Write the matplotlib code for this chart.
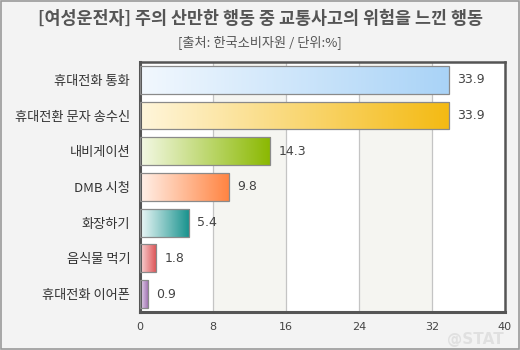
import numpy as np
import matplotlib
matplotlib.use('Agg')
import matplotlib.pyplot as plt
from matplotlib.colors import LinearSegmentedColormap
from matplotlib.patches import Rectangle

plt.rcParams['font.family'] = ['Noto Sans CJK KR', 'DejaVu Sans']

# data
categories = ['휴대전화 통화', '휴대전환 문자 송수신', '내비게이션', 'DMB 시청',
              '화장하기', '음식물 먹기', '휴대전화 이어폰']
values = [33.9, 33.9, 14.3, 9.8, 5.4, 1.8, 0.9]
x_ticks = [0, 8, 16, 24, 32, 40]
title = '[여성운전자] 주의 산만한 행동 중 교통사고의 위험을 느낀 행동'
subtitle = '[출처: 한국소비자원 / 단위:%]'

# gradient colours for each bar (left -> right)
grads = [('#f2f8fe', '#a9d3f7'),
         ('#fff6dc', '#f4ba12'),
         ('#f4f9e6', '#8ab800'),
         ('#fff1ea', '#ff8340'),
         ('#eef8f8', '#15918c'),
         ('#f9d8d8', '#dd4f52'),
         ('#eadcef', '#9a68ac')]

fig = plt.figure(figsize=(5.2, 3.5), dpi=100)
fig.patch.set_facecolor('#f3f3f3')
fig.patches.append(Rectangle((0.001, 0.002), 0.997, 0.995, transform=fig.transFigure,
                             fill=False, edgecolor='#9a9a9a', linewidth=1.2))

ax = fig.add_axes([0.269, 0.109, 0.702, 0.714])
ax.set_xlim(0, 40)
ax.set_ylim(len(categories) - 0.5, -0.5)

# alternating column bands
for i in range(len(x_ticks) - 1):
    ax.axvspan(x_ticks[i], x_ticks[i + 1],
               color='white' if i % 2 == 0 else '#f5f5f1', zorder=0, lw=0)
for t in x_ticks[1:-1]:
    ax.axvline(t, color='#c4c4c4', lw=0.9, zorder=1)

ypos = np.arange(len(categories))
bars = ax.barh(ypos, values, height=0.78, color='none', edgecolor='#8a8a8a',
               linewidth=0.9, zorder=3)

grad = np.linspace(0, 1, 256).reshape(1, -1)
for bar, (c0, c1), v in zip(bars, grads, values):
    cmap = LinearSegmentedColormap.from_list('g', [c0, c1])
    x0, y0 = bar.get_x(), bar.get_y()
    w, h = bar.get_width(), bar.get_height()
    im = ax.imshow(grad, cmap=cmap, aspect='auto', extent=[x0, x0 + w, y0 + h, y0],
                   zorder=2, interpolation='bicubic')
    im.set_clip_path(bar)
    ax.text(v + 0.9, bar.get_y() + h / 2, f'{v}', va='center', ha='left',
            fontsize=9, color='#444444', family=['DejaVu Sans'])

ax.set_xlim(0, 40)
ax.set_ylim(len(categories) - 0.5, -0.5)

ax.set_yticks(ypos)
ax.set_yticklabels(categories, fontsize=9.5, color='#333333')
ax.set_xticks(x_ticks)
ax.set_xticklabels([str(t) for t in x_ticks], fontsize=8, color='#444444',
                   family=['DejaVu Sans'])
ax.tick_params(axis='both', length=0)
ax.tick_params(axis='y', pad=7)
ax.tick_params(axis='x', pad=7)

for side in ['left', 'bottom']:
    ax.spines[side].set_color('#555555')
    ax.spines[side].set_linewidth(2.2)
for side in ['top', 'right']:
    ax.spines[side].set_color('#555555')
    ax.spines[side].set_linewidth(1.8)

fig.text(0.5, 0.945, title, ha='center', va='center', fontsize=12.5,
         fontweight='bold', color='#555555')
fig.text(0.5, 0.88, subtitle, ha='center', va='center', fontsize=9.5,
         color='#555555')

# watermark
fig.text(0.915, 0.03, '@STAT', ha='center', va='center', fontsize=11,
         fontweight='bold', color='#dcdcdc', alpha=0.8, family=['DejaVu Sans'])

fig.savefig('out.png', dpi=100, facecolor=fig.get_facecolor())
